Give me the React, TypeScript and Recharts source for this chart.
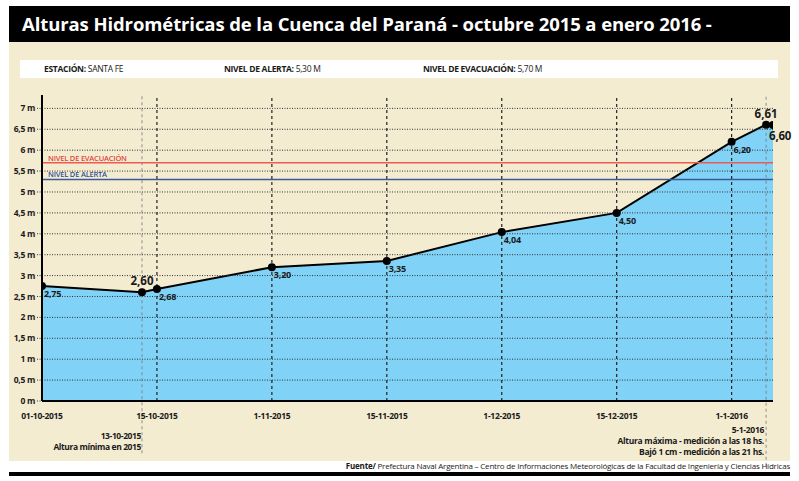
import React from "react";
import {
  ComposedChart,
  Area,
  XAxis,
  YAxis,
  ReferenceLine,
  LabelList,
} from "recharts";

// tick labels on the x axis (evenly spaced, one per index)
const dateTicks = [
  "01-10-2015",
  "15-10-2015",
  "1-11-2015",
  "15-11-2015",
  "1-12-2015",
  "15-12-2015",
  "1-1-2016",
];
const tickIndex = [0, 1, 2, 3, 4, 5, 6];

// measurements: position along the date axis + height in metres
const pointPos = [0, 0.87, 1, 2, 3, 4, 5, 6, 6.3, 6.36];
const pointHeight = [2.75, 2.6, 2.68, 3.2, 3.35, 4.04, 4.5, 6.2, 6.61, 6.6];
const bigLabelAbove = [1, 8];
const bigLabelBelow = [9];

const yTicks = [0, 0.5, 1, 1.5, 2, 2.5, 3, 3.5, 4, 4.5, 5, 5.5, 6, 6.5, 7];
const alertLevel = 5.3;
const evacLevel = 5.7;
const minMarker = 0.87; // 13-10-2015
const maxMarker = 6.3; // 5-1-2016

const data = pointPos.map((pos, i) => ({ pos, h: pointHeight[i] }));

const FONT = "'Open Sans', 'Noto Sans', sans-serif";
const INK = "#1a1a1a";

const fmt = (v: number) => v.toFixed(2).replace(".", ",");

function PointLabel(props: any) {
  const { x, y, value, index } = props;
  if (bigLabelAbove.includes(index)) {
    return (
      <text x={x} y={y - 7} textAnchor="middle" fontSize={11.5} fontWeight={700} fill={INK} fontFamily={FONT}>
        {fmt(value)}
      </text>
    );
  }
  const big = bigLabelBelow.includes(index);
  return (
    <text
      x={x + (big ? -4 : 2)}
      y={y + (big ? 15 : 11)}
      fontSize={big ? 11.5 : 9}
      fontWeight={700}
      fill={INK}
      fontFamily={FONT}
      letterSpacing={-0.2}
    >
      {fmt(value)}
    </text>
  );
}

function levelLabel(text: string, color: string) {
  return (props: any) => {
    const vb = props.viewBox;
    return (
      <text x={vb.x + 6} y={vb.y - 2} fontSize={7.5} fontWeight={600} fill={color} fontFamily={FONT} letterSpacing={-0.2}>
        {text}
      </text>
    );
  };
}

export default function App() {
  return (
    <div
      style={{
        position: "absolute",
        left: 0,
        top: 0,
        width: 799,
        height: 481,
        background: "#ffffff",
        fontFamily: FONT,
        overflow: "hidden",
      }}
    >
      {/* title bar */}
      <div
        style={{
          position: "absolute",
          left: 9,
          top: 6,
          width: 781,
          height: 36,
          background: "#000",
          color: "#fff",
          fontWeight: 700,
          fontSize: 18.5,
          lineHeight: "36px",
          paddingLeft: 13,
          boxSizing: "border-box",
          letterSpacing: -0.1,
          whiteSpace: "nowrap",
        }}
      >
        Alturas Hidrométricas de la Cuenca del Paraná - octubre 2015 a enero 2016 -
      </div>

      {/* cream panel */}
      <div style={{ position: "absolute", left: 9, top: 42, width: 781, height: 419, background: "#f4ecd1" }} />

      {/* station strip */}
      <div
        style={{
          position: "absolute",
          left: 20,
          top: 60,
          width: 758,
          height: 18,
          background: "#fff",
          fontSize: 8.5,
          lineHeight: "18px",
          color: INK,
          letterSpacing: -0.3,
        }}
      >
        <span style={{ position: "absolute", left: 24 }}>
          <b>ESTACIÓN:</b> SANTA FE
        </span>
        <span style={{ position: "absolute", left: 204 }}>
          <b>NIVEL DE ALERTA:</b> 5,30 M
        </span>
        <span style={{ position: "absolute", left: 403 }}>
          <b>NIVEL DE EVACUACIÓN:</b> 5,70 M
        </span>
      </div>

      <div style={{ position: "absolute", left: 0, top: 0 }}>
        <ComposedChart
          width={799}
          height={481}
          data={data}
          margin={{ top: 95, right: 26, bottom: 50, left: 0 }}
        >
          <XAxis
            type="number"
            dataKey="pos"
            domain={[0, 6.36]}
            ticks={tickIndex}
            tickFormatter={(v: number) => dateTicks[v] ?? ""}
            axisLine={{ stroke: "#000", strokeWidth: 2 }}
            tickLine={false}
            tickMargin={6}
            height={30}
            tick={{ fontSize: 8.5, fontWeight: 700, fill: INK, fontFamily: FONT, letterSpacing: -0.3 }}
            interval={0}
            allowDataOverflow
          />
          <YAxis
            type="number"
            domain={[0, 7.32]}
            ticks={yTicks}
            width={42}
            tickFormatter={(v: number) => `${String(v).replace(".", ",")} m`}
            axisLine={{ stroke: "#000", strokeWidth: 2 }}
            tickLine={{ stroke: "#333", strokeDasharray: "1 1.5" }}
            tickSize={5}
            tickMargin={2}
            tick={{ fontSize: 8.5, fontWeight: 700, fill: INK, fontFamily: FONT, letterSpacing: -0.3 }}
            interval={0}
            allowDataOverflow
          />
          <Area
            type="linear"
            dataKey="h"
            stroke="none"
            fill="#80d2f6"
            fillOpacity={1}
            isAnimationActive={false}
            dot={false}
            activeDot={false}
          />
          {yTicks
            .filter((v) => v > 0)
            .map((v) => (
              <ReferenceLine key={`g${v}`} y={v} stroke="#333" strokeWidth={1} strokeDasharray="1 1.5" />
            ))}
          {tickIndex
            .filter((v) => v > 0)
            .map((v) => (
              <ReferenceLine key={`v${v}`} x={v} stroke="#222" strokeWidth={1.2} strokeDasharray="3 3" />
            ))}
          <ReferenceLine
            segment={[
              { x: minMarker, y: -1.25 },
              { x: minMarker, y: 7.32 },
            ]}
            stroke="#777"
            strokeWidth={0.8}
            strokeDasharray="3 3"
            ifOverflow="visible"
          />
          <ReferenceLine
            segment={[
              { x: maxMarker, y: -1.55 },
              { x: maxMarker, y: 7.32 },
            ]}
            stroke="#777"
            strokeWidth={0.8}
            strokeDasharray="3 3"
            ifOverflow="visible"
          />
          <ReferenceLine y={evacLevel} stroke="#ee5a50" strokeWidth={1.5} label={levelLabel("NIVEL DE EVACUACIÓN", "#e0463c")} />
          <ReferenceLine y={alertLevel} stroke="#3b5998" strokeWidth={1.5} label={levelLabel("NIVEL DE ALERTA", "#2f4f95")} />
          <Area
            type="linear"
            dataKey="h"
            stroke="#000"
            strokeWidth={2}
            fill="none"
            fillOpacity={1}
            isAnimationActive={false}
            dot={{ r: 4, fill: "#000", fillOpacity: 1, stroke: "none" }}
            activeDot={false}
          >
            <LabelList dataKey="h" content={PointLabel} />
          </Area>
        </ComposedChart>
      </div>

      {/* annotations below the axis */}
      <div
        style={{
          position: "absolute",
          right: 799 - 141,
          top: 431,
          textAlign: "right",
          fontSize: 8.5,
          fontWeight: 700,
          lineHeight: "10.5px",
          color: INK,
          letterSpacing: -0.4,
          whiteSpace: "nowrap",
        }}
      >
        <div>13-10-2015</div>
        <div>Altura mínima en 2015</div>
      </div>
      <div
        style={{
          position: "absolute",
          right: 799 - 764,
          top: 424,
          textAlign: "right",
          fontSize: 8.5,
          fontWeight: 700,
          lineHeight: "11px",
          color: INK,
          letterSpacing: -0.3,
          whiteSpace: "nowrap",
        }}
      >
        <div>5-1-2016</div>
        <div>Altura máxima - medición a las 18 hs.</div>
        <div>Bajó 1 cm - medición a las 21 hs.</div>
      </div>

      {/* source */}
      <div
        style={{
          position: "absolute",
          right: 9,
          top: 461,
          fontSize: 8,
          lineHeight: "10px",
          color: INK,
          letterSpacing: -0.2,
          whiteSpace: "nowrap",
        }}
      >
        <b>Fuente/</b> Prefectura Naval Argentina – Centro de Informaciones Meteorológicas de la Facultad de Ingeniería y Ciencias Hídricas
      </div>
      <div style={{ position: "absolute", left: 9, top: 472, width: 781, height: 4, background: "#000" }} />
    </div>
  );
}
